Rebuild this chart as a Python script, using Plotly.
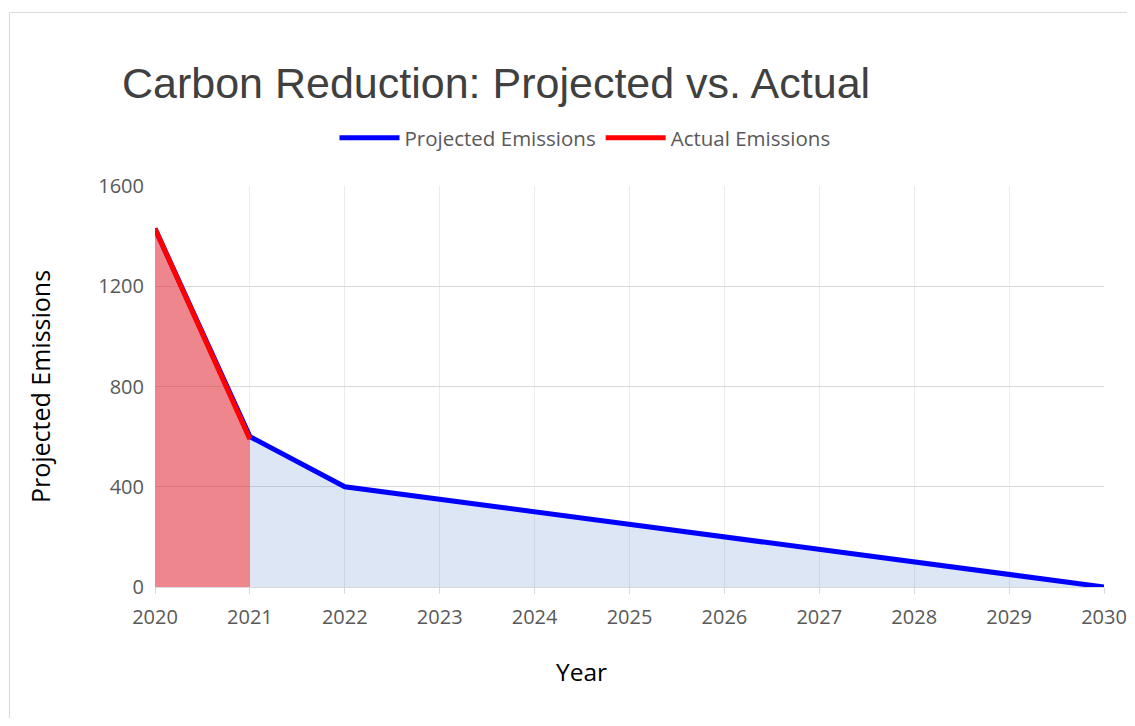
import plotly.graph_objects as go

years = [2020, 2021, 2022, 2023, 2024, 2025, 2026, 2027, 2028, 2029, 2030]
projected = [1430, 600, 400, 350, 300, 250, 200, 150, 100, 50, 0]
actual_years = [2020, 2021]
actual = [1430, 590]
y_ticks = [0, 400, 800, 1200, 1600]

font_main = "Open Sans, Liberation Sans, sans-serif"

# page body has an 8px margin; work in figure coordinates
OFF = 8
W, H = 1135 - 2 * OFF, 726 - 2 * OFF
L, R, T, B = 155 - OFF, 1104 - OFF, 186 - OFF, 587 - OFF

fig = go.Figure()
# fills (no legend)
fig.add_trace(go.Scatter(
    x=years, y=projected, mode="lines", showlegend=False,
    line=dict(color="rgba(0,0,0,0)", width=0),
    fill="tozeroy", fillcolor="rgba(68,114,196,0.18)",
))
fig.add_trace(go.Scatter(
    x=actual_years, y=actual, mode="lines", showlegend=False,
    line=dict(color="rgba(0,0,0,0)", width=0),
    fill="tozeroy", fillcolor="rgba(254,38,38,0.5)",
))
# lines
fig.add_trace(go.Scatter(
    x=years, y=projected, mode="lines", name="Projected Emissions",
    line=dict(color="#0000ff", width=5),
))
fig.add_trace(go.Scatter(
    x=actual_years, y=actual, mode="lines", name="Actual Emissions",
    line=dict(color="#ff0000", width=5),
))

fig.add_shape(type="rect", xref="paper", yref="paper",
              x0=(9.5 - OFF - L) / (R - L), x1=(1140 - OFF - L) / (R - L),
              y0=(B - 760) / (B - T), y1=(B - (12.5 - OFF)) / (B - T),
              line=dict(color="#d9d9d9", width=1), fillcolor="rgba(0,0,0,0)",
              layer="below")

fig.add_annotation(text="Year", showarrow=False, xref="paper", yref="paper",
                   x=(581 - OFF - L) / (R - L), xanchor="center",
                   y=(B - (671 - OFF)) / (B - T), yanchor="middle",
                   font=dict(family=font_main, size=24.5, color="#000000"))

fig.update_layout(
    width=W, height=H,
    margin=dict(l=L, r=W - R, t=T, b=H - B, autoexpand=False),
    paper_bgcolor="white", plot_bgcolor="white",
    title=dict(text="Carbon Reduction: Projected vs. Actual",
               x=(122 - OFF) / W, xanchor="left", xref="container",
               y=1 - (83 - OFF) / H, yanchor="middle", yref="container",
               font=dict(family="Liberation Sans, Arial, sans-serif", size=43, color="#404040")),
    legend=dict(orientation="h", x=(585 - OFF - L) / (R - L), xanchor="center",
                y=(B - (138 - OFF)) / (B - T), yanchor="middle",
                font=dict(family=font_main, size=20.5, color="#595959"),
                itemwidth=60, tracegroupgap=0,
                bgcolor="rgba(0,0,0,0)"),
    showlegend=True,
    hovermode=False,
)

fig.update_xaxes(
    range=[2020, 2030], tickvals=years, ticktext=[str(y) for y in years],
    showgrid=True, gridcolor="#ebebeb", gridwidth=1,
    showline=True, linecolor="#d9d9d9", linewidth=1,
    ticks="outside", ticklen=6, tickcolor="#d9d9d9",
    ticklabelstandoff=6, automargin=False,
    tickfont=dict(family=font_main, size=20, color="#595959"),
    zeroline=False,
)
fig.update_yaxes(
    range=[0, 1600], tickvals=y_ticks,
    showgrid=True, gridcolor="#d9d9d9", gridwidth=1,
    showline=False, ticks="", zeroline=False,
    ticklabelstandoff=10, automargin=False,
    tickfont=dict(family=font_main, size=20, color="#595959"),
    title=dict(text="Projected Emissions", font=dict(family=font_main, size=25, color="#000000"), standoff=40),
)

fig.write_html("out.html")
